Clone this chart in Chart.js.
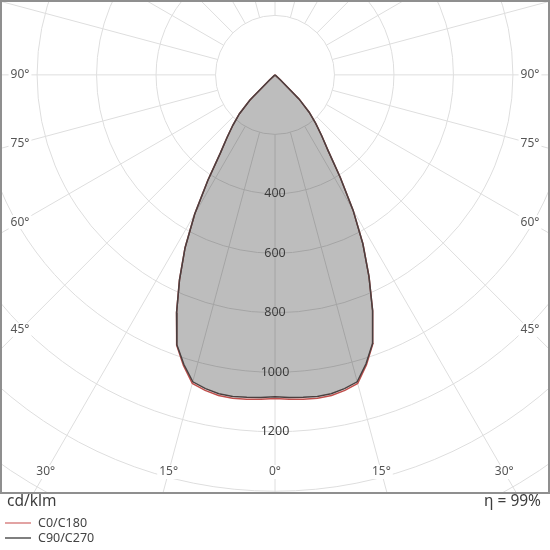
<!DOCTYPE html>
<html>
<head>
<meta charset="utf-8">
<script src="https://cdn.jsdelivr.net/npm/chart.js@4"></script>
<style>
  html, body { margin: 0; padding: 0; background: #fff; }
</style>
</head>
<body>
<canvas id="ldc" width="550" height="550"></canvas>
<script>
// gamma angle from nadir (deg) and luminous intensity in cd/klm
const gammas = [0, 2.5, 5, 7.5, 10, 12.5, 15, 17.5, 20, 22.5, 25, 27.5, 30, 32.5, 35, 37.5, 40, 42.5, 45, 47.5, 50, 60, 70, 80, 90];
const c0   = [1088, 1091, 1094, 1096, 1094, 1086, 1074, 1022, 962, 858, 748, 640, 525, 408, 312, 258, 213, 170, 114, 24, 0, 0, 0, 0, 0];
const c180 = [1088, 1091, 1094, 1096, 1094, 1086, 1074, 1024, 967, 865, 760, 655, 540, 420, 320, 265, 220, 177, 119, 25, 0, 0, 0, 0, 0];
const c90  = [1082, 1085, 1088, 1090, 1088, 1080, 1068, 1018, 960, 858, 748, 640, 525, 408, 312, 258, 213, 170, 114, 24, 0, 0, 0, 0, 0];
const c270 = [1082, 1085, 1088, 1090, 1088, 1080, 1068, 1020, 965, 865, 760, 655, 540, 420, 320, 265, 220, 177, 119, 25, 0, 0, 0, 0, 0];

const ringValues = [200, 400, 600, 800, 1000, 1200, 1400, 1600, 1800, 2000];
const ringLabels = [400, 600, 800, 1000, 1200];
const angleTicks = [0, 15, 30, 45, 60, 75, 90];
const unitLabel = 'cd/klm';
const efficiency = 'η = 99%';

// left half (C180 / C270) goes from 90° down to nadir, right half back up
function toPoints(left, right) {
  const pts = [];
  for (let i = gammas.length - 1; i >= 0; i--) {
    const a = gammas[i] * Math.PI / 180;
    pts.push({x: -left[i] * Math.sin(a), y: -left[i] * Math.cos(a)});
  }
  for (let i = 1; i < gammas.length; i++) {
    const a = gammas[i] * Math.PI / 180;
    pts.push({x: right[i] * Math.sin(a), y: -right[i] * Math.cos(a)});
  }
  return pts;
}

const FONT = '"Noto Sans", "DejaVu Sans", sans-serif';

const ldcGrid = {
  id: 'ldcGrid',
  beforeDatasetsDraw(chart) {
    const {ctx, chartArea: a, scales: {x, y}} = chart;
    const cx = x.getPixelForValue(0), cy = y.getPixelForValue(0);
    const k = (x.getPixelForValue(1000) - cx) / 1000;
    ctx.save();
    ctx.beginPath();
    ctx.rect(a.left, a.top, a.right - a.left, a.bottom - a.top);
    ctx.clip();
    ctx.strokeStyle = '#dedede';
    ctx.lineWidth = 1;
    ringValues.forEach(v => {
      ctx.beginPath();
      ctx.arc(cx, cy, v * k, 0, Math.PI * 2);
      ctx.stroke();
    });
    const r0 = ringValues[0] * k, r1 = 3000 * k;
    for (let g = 0; g < 360; g += 15) {
      const rad = g * Math.PI / 180;
      ctx.beginPath();
      ctx.moveTo(cx + r0 * Math.sin(rad), cy + r0 * Math.cos(rad));
      ctx.lineTo(cx + r1 * Math.sin(rad), cy + r1 * Math.cos(rad));
      ctx.stroke();
    }
    // angle labels where the rays meet an inset frame
    ctx.font = '12px ' + FONT;
    ctx.textAlign = 'center';
    ctx.textBaseline = 'middle';
    const xl = a.left + 18, xr = a.right - 18, yb = a.bottom - 20;
    angleTicks.forEach(g => {
      [-1, 1].forEach(side => {
        if (g === 0 && side === 1) return;
        const s = Math.sin(g * Math.PI / 180), c = Math.cos(g * Math.PI / 180);
        let t = Infinity;
        if (s > 1e-6) t = Math.min(t, side < 0 ? (cx - xl) / s : (xr - cx) / s);
        if (c > 1e-6) t = Math.min(t, (yb - cy) / c);
        const px = cx + side * t * s, py = cy + t * c;
        const txt = g + '°';
        const w = ctx.measureText(txt).width;
        ctx.fillStyle = '#fff';
        ctx.fillRect(px - w / 2 - 2, py - 7, w + 4, 14);
        ctx.fillStyle = '#555';
        ctx.fillText(txt, px, py);
      });
    });
    ctx.restore();
  },
  afterDatasetsDraw(chart) {
    const {ctx, scales: {x, y}} = chart;
    const cx = x.getPixelForValue(0);
    ctx.save();
    ctx.font = '12.5px ' + FONT;
    ctx.textAlign = 'center';
    ctx.textBaseline = 'middle';
    ctx.fillStyle = '#3d3d3d';
    ringLabels.forEach(v => ctx.fillText(String(v), cx, y.getPixelForValue(-v)));
    ctx.restore();
  },
  afterDraw(chart) {
    const {ctx, chartArea: a} = chart;
    ctx.save();
    ctx.strokeStyle = '#8f8f8f';
    ctx.lineWidth = 2;
    ctx.strokeRect(a.left - 1, a.top - 1, a.right - a.left + 2, a.bottom - a.top + 2);
    ctx.fillStyle = '#3d3d3d';
    ctx.textBaseline = 'middle';
    ctx.font = '15.5px ' + FONT;
    ctx.textAlign = 'left';
    ctx.fillText(unitLabel, 7, a.bottom + 10);
    ctx.textAlign = 'right';
    ctx.fillText(efficiency, 541, a.bottom + 10);
    ctx.font = '12.5px ' + FONT;
    ctx.textAlign = 'left';
    chart.data.datasets.forEach((ds, i) => {
      const ly = a.bottom + 31 + i * 15;
      ctx.strokeStyle = ds.legendColor;
      ctx.lineWidth = 1.5;
      ctx.beginPath();
      ctx.moveTo(5, ly);
      ctx.lineTo(31, ly);
      ctx.stroke();
      ctx.fillStyle = '#444';
      ctx.fillText(ds.label, 38, ly);
    });
    ctx.restore();
  }
};

new Chart(document.getElementById('ldc'), {
  type: 'scatter',
  data: {
    datasets: [{
      label: 'C0/C180',
      data: toPoints(c180, c0),
      showLine: true,
      borderColor: '#c0504d',
      legendColor: '#d98585',
      borderWidth: 1.5,
      pointRadius: 0,
      fill: false,
      order: 1
    }, {
      label: 'C90/C270',
      data: toPoints(c270, c90),
      showLine: true,
      borderColor: '#4a4040',
      legendColor: '#555',
      borderWidth: 1.5,
      pointRadius: 0,
      fill: 'shape',
      backgroundColor: 'rgba(0,0,0,0.26)',
      order: 0
    }]
  },
  options: {
    responsive: false,
    animation: false,
    layout: {padding: {left: 2, right: 2, top: 2, bottom: 58}},
    scales: {
      x: {type: 'linear', min: -918, max: 918, display: false},
      y: {type: 'linear', min: -1402, max: 245, display: false}
    },
    plugins: {
      legend: {display: false},
      tooltip: {enabled: false}
    }
  },
  plugins: [ldcGrid]
});
</script>
</body>
</html>
